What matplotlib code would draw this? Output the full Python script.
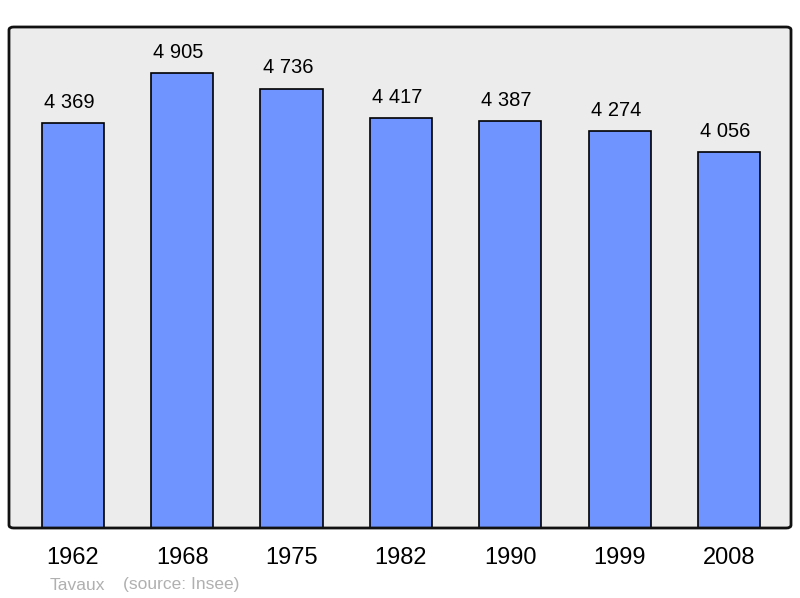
import matplotlib
matplotlib.use("Agg")
import matplotlib.pyplot as plt
from matplotlib.patches import FancyBboxPatch

years = ["1962", "1968", "1975", "1982", "1990", "1999", "2008"]
population = [4369, 4905, 4736, 4417, 4387, 4274, 4056]
commune = "Tavaux"
source = "(source: Insee)"

plt.rcParams['font.family'] = ['Liberation Sans', 'DejaVu Sans']

fig = plt.figure(figsize=(8, 5.98), dpi=100)
ax = fig.add_axes([9 / 800, 1 - 528 / 598, 782 / 800, 501 / 598])
ax.set_facecolor('#ececec')

x = range(len(years))
ax.bar(x, population, width=0.57, color='#7094ff', edgecolor='black', linewidth=1.2, zorder=2)
# les étiquettes sont un peu décalées vers la gauche dans l'original
for xi, v in zip(x, population):
    lab = f"{v:,}".replace(",", " ")
    ax.text(xi - 0.035, v + 120, lab, ha='center', va='bottom', fontsize=14.5)

ax.set_xlim(-0.585, 6.567)
ax.set_ylim(0, 5400)
ax.set_yticks([])
ax.set_xticks(list(x))
ax.set_xticklabels(years, fontsize=17)
ax.tick_params(axis='x', length=0, pad=14)
for s in ax.spines.values():
    s.set_visible(False)

frame = FancyBboxPatch((0, 0), 1, 1, boxstyle="round,pad=0,rounding_size=0.006",
                       transform=ax.transAxes, fill=False, edgecolor='#111111',
                       linewidth=2, clip_on=False, zorder=5)
ax.add_patch(frame)

fig.text(50 / 800, 1 - 585 / 598, commune, fontsize=12.5, color='#b0b0b0', va='center')
fig.text(123 / 800, 1 - 585 / 598, source, fontsize=12.5, color='#b0b0b0', va='center')

fig.savefig("out.png", dpi=100, facecolor='white')
